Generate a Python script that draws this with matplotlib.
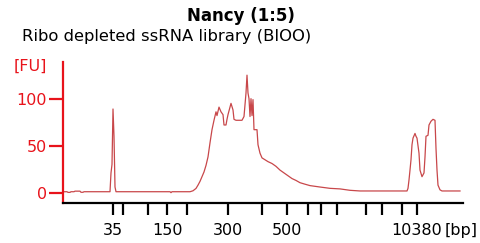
import matplotlib
matplotlib.use("Agg")
import matplotlib.pyplot as plt

# electropherogram trace, position along the run axis vs fluorescence [FU]
pos = [0, 4, 5, 7, 8, 11, 12, 17, 18, 20, 21, 47, 48, 49, 50, 51, 52, 53,
       107, 108, 109, 127, 130, 133, 135, 137, 139, 141, 143, 145, 147, 149,
       151, 153, 154, 156, 158, 160, 161, 163, 164, 165, 167, 168, 170, 171,
       173, 179, 181, 183, 184, 185, 186, 187, 188, 189, 190, 191, 194, 195,
       197, 199, 202, 205, 209, 213, 217, 221, 225, 229, 233, 237, 242, 247,
       257, 267, 277, 287, 297, 344, 345, 346, 347, 348, 349, 350, 352, 353,
       354, 356, 357, 359, 361, 362, 363, 365, 366, 368, 370, 372, 373, 374,
       375, 377, 379, 397]
fu = [1, 1, 0.3, 0.3, 1, 1, 1.6, 1.6, 0.4, 0.4, 1, 1, 21, 30, 89, 60, 6, 1,
      1, 0, 1, 1, 2, 4.5, 8, 12, 17, 22, 29, 38, 53, 67,
      77, 86, 82, 91, 86, 83, 72, 72, 78, 83, 91, 95, 88, 78,
      77, 77, 81, 106, 125, 106, 100, 81, 100, 82, 99, 67, 67, 51,
      42, 37, 35, 33, 31, 28, 24, 21, 18, 15, 13, 10.6, 9, 7.5,
      6, 4.6, 4, 2.5, 1.8, 1.8, 4.6, 13.5, 24, 35, 51, 58, 63, 60,
      58, 42, 24, 17, 21, 38, 60, 61, 72, 76, 78, 77, 47, 24,
      8, 3, 1.8, 1.8]

x_ticks = [50, 60, 85, 104, 124, 165, 199, 224, 245, 258, 274, 303, 319, 339, 354]
x_labels = ["35", "", "", "150", "", "300", "", "500", "", "", "", "", "", "", "10380"]
y_ticks = [0, 50, 100]

red = "#e8131b"
trace = "#c8474a"

fig = plt.figure(figsize=(4.8, 2.43), dpi=100)
ax = fig.add_axes([63 / 480, 1 - 203 / 243, 400 / 480, 141 / 243])

ax.plot(pos, fu, color=trace, lw=0.9)
ax.set_xlim(0, 400)
ax.set_ylim(-11, 139)

for s in ["top", "right"]:
    ax.spines[s].set_visible(False)
ax.spines["left"].set_color(red)
ax.spines["left"].set_linewidth(1.6)
ax.spines["bottom"].set_color("black")
ax.spines["bottom"].set_linewidth(1.6)

ax.set_yticks(y_ticks)
ax.tick_params(axis="y", colors=red, length=10, width=1.6, pad=1.5, labelsize=11.5)
ax.set_xticks(x_ticks)
ax.set_xticklabels(x_labels)
ax.tick_params(axis="x", colors="black", length=8.5, width=1.6, pad=6, labelsize=11.5)

fig.text(47 / 480, 1 - 66 / 243, "[FU]", color=red, fontsize=11.5, ha="right", va="center")
fig.text(478 / 480, 1 - 230 / 243, "[bp]", color="black", fontsize=11.5, ha="right", va="center")

fig.text(241 / 480, 1 - 16 / 243, "Nancy (1:5)", fontsize=12, fontweight="bold", ha="center", va="center")
fig.text(167 / 480, 1 - 36 / 243, "Ribo depleted ssRNA library (BIOO)", fontsize=11.8, ha="center", va="center")

fig.savefig("out.png", dpi=100)
